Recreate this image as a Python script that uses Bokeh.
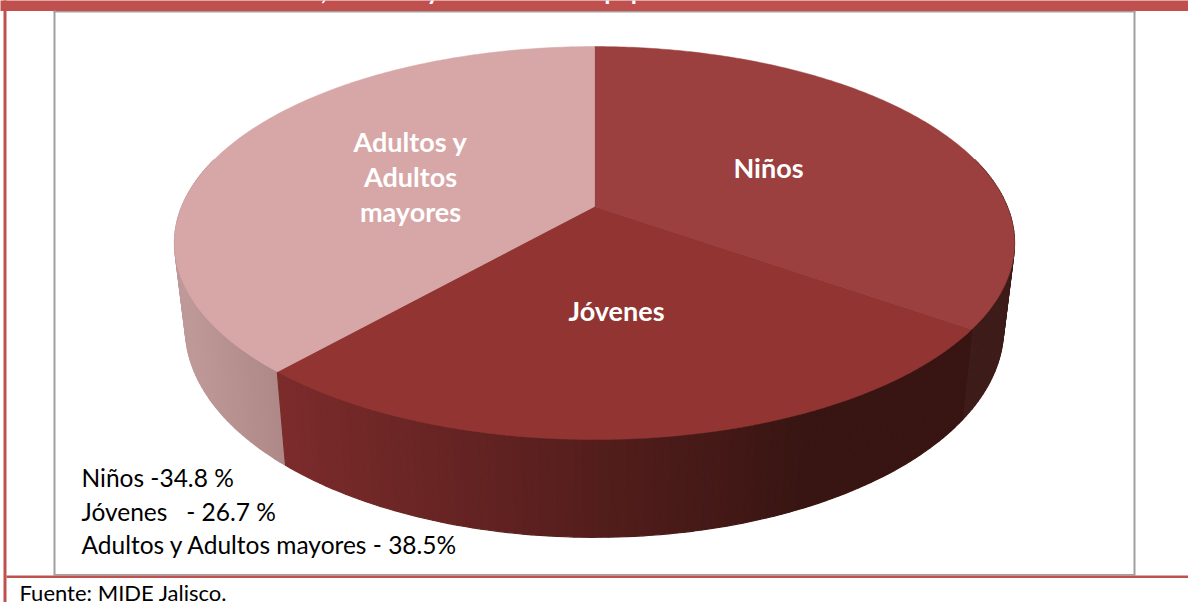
import numpy as np
from bokeh.plotting import figure
from bokeh.embed import file_html
from bokeh.resources import INLINE
from bokeh.core.properties import value

CATEGORIES = ["Niños", "Jóvenes", "Adultos y Adultos mayores"]
SHARES = [34.8, 26.7, 38.5]
SLICE_LABELS = [["Niños"], ["Jóvenes"], ["Adultos y", "Adultos", "mayores"]]
NOTE_LINES = ["Niños -34.8 %", "Jóvenes \u00a0 - 26.7 %", "Adultos y Adultos mayores - 38.5%"]
SOURCE = "Fuente: MIDE Jalisco."
TITLE = "Población total de Niños, Jóvenes y Adultos con equipamientos"

W, H = 1188, 602
p = figure(width=W, height=H, x_range=(1, W + 1), y_range=(H + 1, 1), output_backend="svg",
           toolbar_location=None, min_border=0, outline_line_color=None,
           background_fill_color="white", border_fill_color="white")
p.axis.visible = False
p.grid.visible = False
p.margin = (0, 0, 0, 0)

RED = "#C0504D"
GRAY = "#A0A0A0"
FONT = value("Lato")

def rect(x0, y0, x1, y1, c):
    p.quad(left=x0, right=x1, top=y0, bottom=y1, fill_color=c, line_color=None)

rect(0, 0, W + 2, 11.5, RED)
rect(4, 0, 7, H + 2, RED)
rect(54, 11, 56, 575, GRAY)
rect(1134, 11, 1136, 575, GRAY)
rect(54, 11.5, 1136, 13, GRAY)
rect(54, 574.5, 1136, 576, GRAY)
rect(7, 576, W + 2, 578.5, RED)

# projective disc model
CX = 595.0
def top_pt(t):
    u, v = np.sin(t), np.cos(t)
    w = 1 + 0.186 * v
    return CX + 412.7 * u / w, 207 - 189.7 * v / w

def bot_pt(t):
    u, v = np.sin(t), np.cos(t)
    w = 1 + 0.186 * v
    return CX + 402.0 * u / w, 290 - 201.7 * v / w

def mix(a, b, f):
    f = min(max(f, 0), 1)
    rgb = [int(round(a[i] + (b[i] - a[i]) * f)) for i in range(3)]
    return "#%02x%02x%02x" % tuple(rgb)

TOPS = ["#9B403E", "#913432", "#D7A7A7"]
fracs = np.cumsum([0] + SHARES) / sum(SHARES) * 2 * np.pi

def side_color(i, x):
    if i == 0:
        return "#3E1C19"
    if i == 1:
        return mix((124, 43, 43), (56, 21, 18), (x - 280) / 530)
    return mix((190, 153, 152), (174, 136, 135), (x - 185) / 95)

# side walls, drawn back to front
order = [2, 0, 1]
for i in order:
    a0, a1 = fracs[i], fracs[i + 1]
    a0v, a1v = max(a0, np.radians(75)), min(a1, np.radians(285))
    if a1v <= a0v:
        continue
    n = max(int((a1v - a0v) / np.radians(1.0)), 1)
    ts = np.linspace(a0v, a1v, n + 1)
    xs, ys, cs = [], [], []
    for t0, t1 in zip(ts[:-1], ts[1:]):
        x0, y0 = top_pt(t0); x1, y1 = top_pt(t1)
        x2, y2 = bot_pt(t1); x3, y3 = bot_pt(t0)
        xs.append([x0, x1, x2, x3]); ys.append([y0, y1, y2, y3])
        cs.append(side_color(i, (x0 + x1) / 2))
    p.patches(xs, ys, fill_color=cs, line_color=cs, line_width=1.2)

# top faces
for i in range(3):
    ts = np.linspace(fracs[i], fracs[i + 1], 180)
    x, y = top_pt(ts)
    p.patch(np.r_[CX, x], np.r_[207, y], fill_color=TOPS[i], line_color=TOPS[i], line_width=0.5)

# slice labels
LABEL_POS = [(769, [168]), (617, [311]), (411, [142, 177, 212])]
for (lx, lys), lines in zip(LABEL_POS, SLICE_LABELS):
    p.text(x=[lx] * len(lines), y=lys, text=lines, text_color="white", text_font=FONT,
           text_font_style="bold", text_font_size="27px", text_align="center", text_baseline="middle")

p.text(x=[82] * 3, y=[478, 512, 545], text=NOTE_LINES, text_color="#000000", text_font=FONT,
       text_font_size="24.5px", text_align="left", text_baseline="middle")
p.text(x=[20], y=[593], text=[SOURCE], text_color="#000000", text_font=FONT,
       text_font_size="22px", text_align="left", text_baseline="middle")
p.text(x=[50], y=[-9.5], text=[TITLE], text_color="white", text_font=FONT, text_font_style="bold",
       text_font_size="25px", text_align="left", text_baseline="alphabetic")

open("out.html", "w").write(file_html(p, INLINE))
